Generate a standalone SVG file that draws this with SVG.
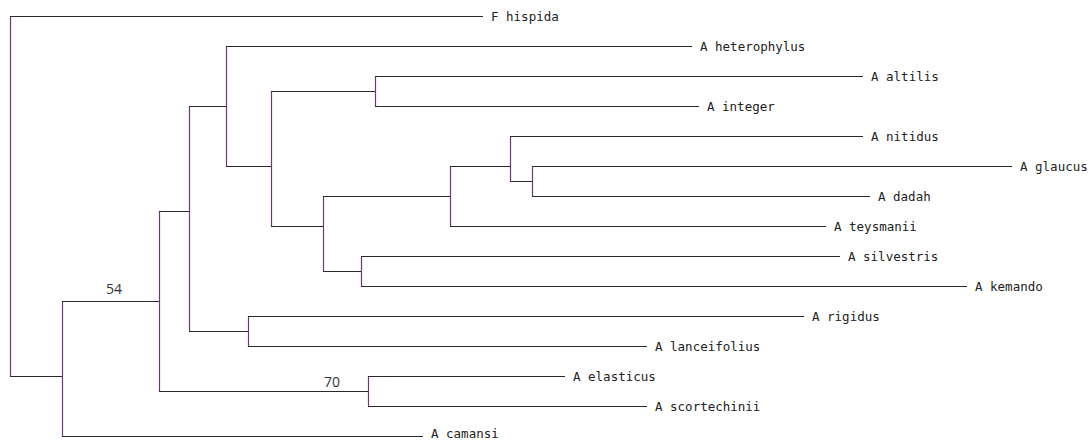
<svg xmlns="http://www.w3.org/2000/svg" width="1089" height="441" viewBox="0 0 1089 441">
<style>
.h{stroke:#2a2a2a;stroke-width:1.2;fill:none}
.v{stroke:#6a3a78;stroke-width:1.2;fill:none}
.t{font-family:"DejaVu Sans Mono","Liberation Mono",monospace;font-size:12.5px;fill:#222}
.b{font-family:"Open Sans","Liberation Sans",sans-serif;font-size:14px;fill:#333}
</style>
<rect width="1089" height="441" fill="#fff"/>
<g id="connectors">
<path class="v" d="M10.5 16.5V376.5M62.5 301.5V436.5M159.5 211.5V391.5M368.5 376.5V406.5M189.5 106.5V331.5M248.5 316.5V346.5M226.5 46.5V166.5M271.5 91.5V226.5M375.5 76.5V106.5M323.5 196.5V271.5M361.5 256.5V286.5M450.5 166.5V226.5M510.5 136.5V181.5M532.5 166.5V196.5"/>
<path class="h" d="M10 16.5H483M10 376.5H62M62 301.5H159M62 436.5H423M159 211.5H189M159 391.5H368M368 376.5H565M368 406.5H647M189 106.5H226M189 331.5H248M248 316.5H804M248 346.5H647M226 46.5H692M226 166.5H271M271 91.5H375M375 76.5H863M375 106.5H699M271 226.5H323M323 196.5H450M323 271.5H361M361 256.5H840M361 286.5H967M450 166.5H510M450 226.5H826M510 136.5H863M510 181.5H532M532 166.5H1012M532 196.5H870"/>
</g>
<g id="n-hispida"><text class="t" x="491" y="20.8">F hispida</text></g>
<g id="n-heterophylus"><text class="t" x="700" y="50.8">A heterophylus</text></g>
<g id="n-altilis"><text class="t" x="871" y="80.8">A altilis</text></g>
<g id="n-integer"><text class="t" x="707" y="110.8">A integer</text></g>
<g id="n-nitidus"><text class="t" x="871" y="140.8">A nitidus</text></g>
<g id="n-glaucus"><text class="t" x="1020" y="170.8">A glaucus</text></g>
<g id="n-dadah"><text class="t" x="878" y="200.8">A dadah</text></g>
<g id="n-teysmanii"><text class="t" x="834" y="230.8">A teysmanii</text></g>
<g id="n-silvestris"><text class="t" x="848" y="260.8">A silvestris</text></g>
<g id="n-kemando"><text class="t" x="975" y="290.8">A kemando</text></g>
<g id="n-rigidus"><text class="t" x="812" y="320.8">A rigidus</text></g>
<g id="n-lanceifolius"><text class="t" x="655" y="350.8">A lanceifolius</text></g>
<g id="n-elasticus"><text class="t" x="573" y="380.8">A elasticus</text></g>
<g id="n-scortechinii"><text class="t" x="655" y="410.8">A scortechinii</text></g>
<g id="n-camansi"><text class="t" x="431" y="437.8">A camansi</text></g>
<g id="support-54"><text class="b" x="106" y="294">54</text></g>
<g id="support-70"><text class="b" x="324" y="387">70</text></g>
</svg>
